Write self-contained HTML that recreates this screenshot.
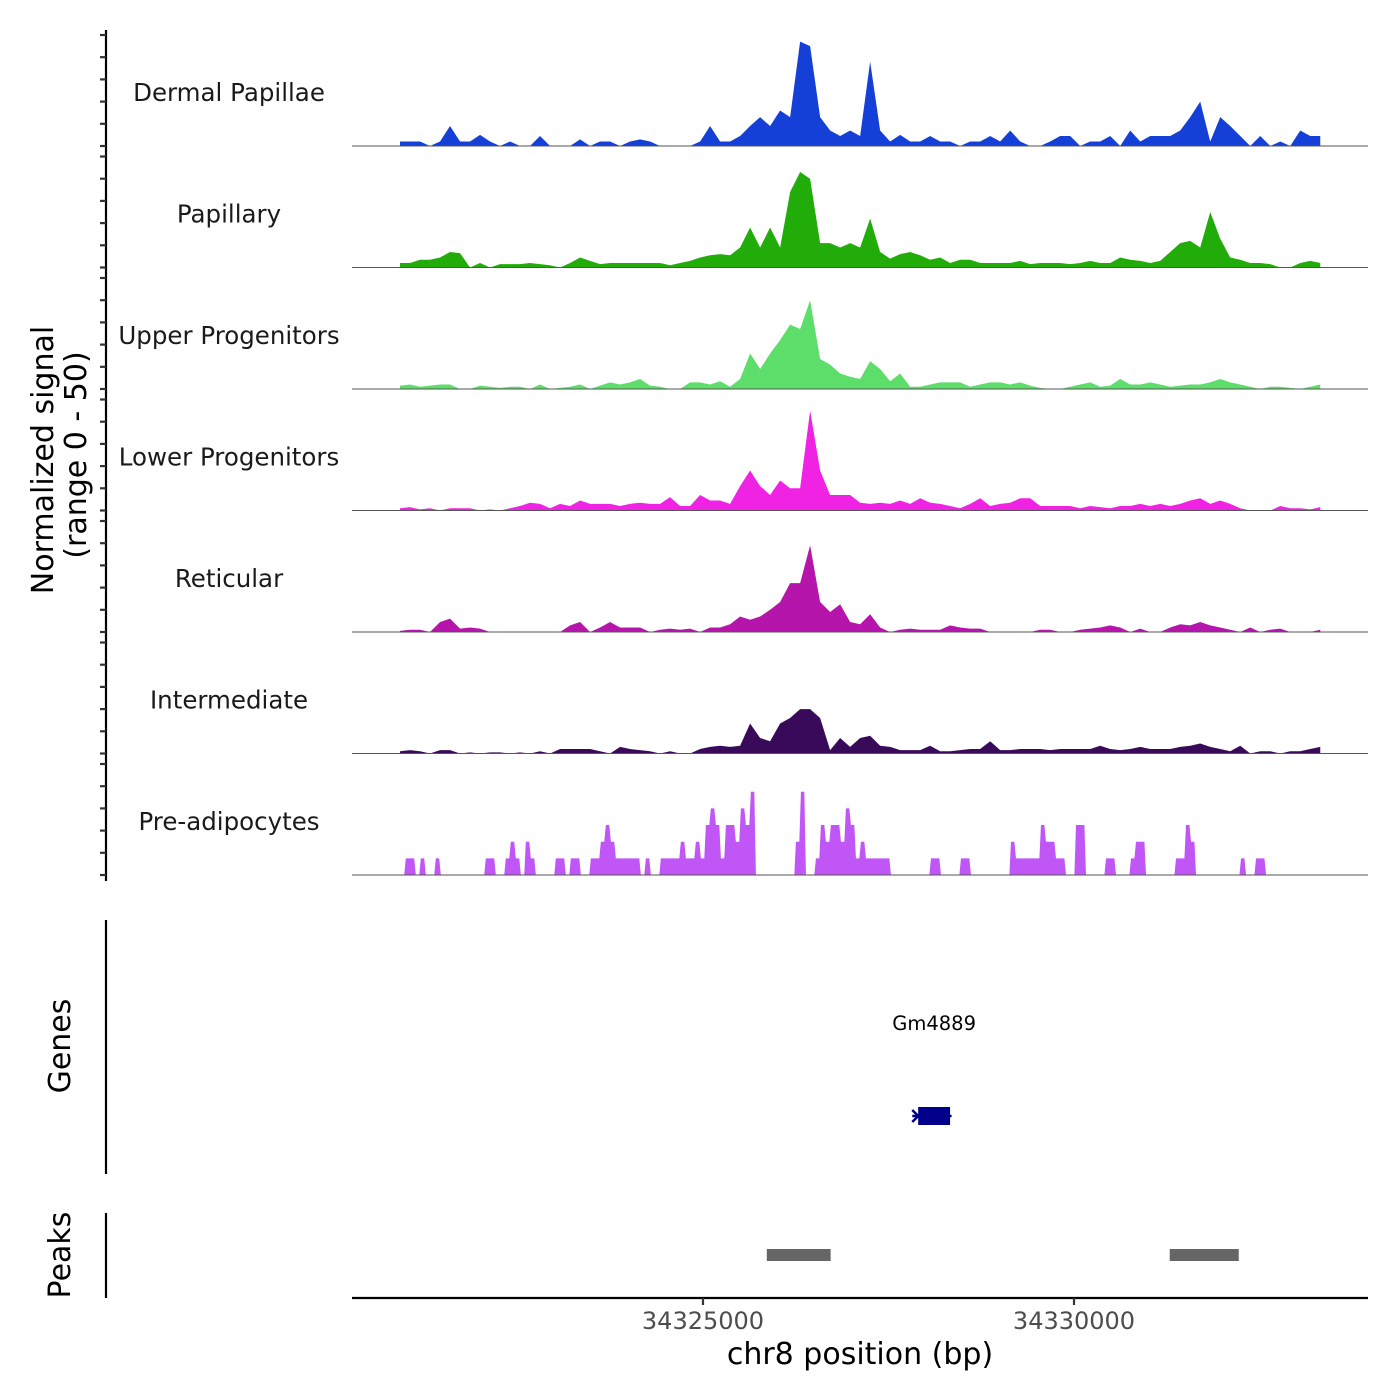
<!DOCTYPE html>
<html><head><meta charset="utf-8"><title>Coverage plot</title>
<style>
html,body{margin:0;padding:0;background:#fff;}
svg{display:block;font-family:"DejaVu Sans","Liberation Sans",sans-serif;}
</style></head>
<body>
<svg id="chart" width="1400" height="1400" viewBox="0 0 1400 1400" xmlns="http://www.w3.org/2000/svg">
<rect x="0" y="0" width="1400" height="1400" fill="#ffffff"/>
<g id="tracks"></g>
<line x1="106" y1="30" x2="106" y2="881" stroke="#000" stroke-width="2.2"/>
<g id="yticks"></g>
<text transform="translate(53,460) rotate(-90)" text-anchor="middle" font-size="30" fill="#000">Normalized signal</text>
<text transform="translate(86,455) rotate(-90)" text-anchor="middle" font-size="30" fill="#000">(range 0 - 50)</text>

<line x1="106" y1="920" x2="106" y2="1174" stroke="#000" stroke-width="2.2"/>
<text transform="translate(70,1046) rotate(-90)" text-anchor="middle" font-size="30" fill="#000">Genes</text>
<g id="genes"></g>

<line x1="106" y1="1213" x2="106" y2="1298" stroke="#000" stroke-width="2.2"/>
<text transform="translate(70,1255) rotate(-90)" text-anchor="middle" font-size="30" fill="#000">Peaks</text>
<g id="peaks"></g>

<line x1="352" y1="1298" x2="1368" y2="1298" stroke="#000" stroke-width="2.2"/>
<g id="xticks"></g>
<text x="860" y="1364" text-anchor="middle" font-size="30" fill="#000">chr8 position (bp)</text>
</svg>
<script>
// ---- data ----
const regionStart = 34320270;
const regionEnd = 34333962;
const binStart = 34320917;
const binStep = 134.8;
const trackNames = ["Dermal Papillae","Papillary","Upper Progenitors","Lower Progenitors","Reticular","Intermediate","Pre-adipocytes"];
const trackColors = ["#1540d8","#22ac0a","#5ddd69","#f022e4","#b515aa","#3a0a5a","#c056f5"];
const dermalPapillae = [2,2,2,0,2,9,2,2,5,2,0,2,0,0,4.5,0,0,0,3,0,2,2,0,2,3,2,0,0,0,0,2,9,2,2,4.5,9,13,9,16,13,47,45,13,7,4.5,7,4.5,38,7,2,5,2,2,4.5,2,2,0,2,2,4.5,2,7,2,0,0,2,4.5,4.5,0,2,2,4.5,0,7,2,4.5,4.5,4.5,7,13,20,2,13,9,4.5,0,4.5,0,2,0,7,4.5,4.5];
const papillary = [2,2,3.5,3.5,4.5,7,6.5,0,2,0,1.5,1.5,1.5,2,1.5,1,0,2,4.5,3,1.5,2,2,2,2,2,2,1,2,3,4.5,5.5,6,5.5,9,18,9,18,9,34,43,40,11,11,9,11,9,22,7,4,6,7,5.5,3.5,4.5,2,3.5,3.5,2,2,2,2,3,1.5,2,2,2,1.5,2,3,2,2,4.5,3.5,3,2,3,7,11,12,9,25,13,4.5,3.5,2,2,1.5,0,0,2,3,2];
const upperProgenitors = [1.5,2,1,1.5,2,2,0,0,1.5,1,0.5,1,1,0,2,0,0.5,1,2,0,1.5,3,2,3,4.5,1.5,1,0,0,3,3,2,3.5,1,4.5,16,9,16,22,29,27,40,13.5,11,7,5.5,4.5,12.5,9,3.5,7,1,1,2,3,3,3,1,2,3,3,2,3,1.5,0.5,0,0,1,2,3,1,1.5,4.5,2,2,3,2,1,1.5,2,2,3,4.5,3,2,1,0,1,1,0.5,0,1,2];
const lowerProgenitors = [1,1.5,0.5,1,0,1,1,1,0,0.5,0,1,2,3.5,3,1,3,2,4.5,3,3,3,2,3,3.5,3,3,6,2,2,7,4.5,4.5,3,11,18,11,7,13.5,10,10,45,18,7,7,7,3.5,3,3.5,3,4.5,3,5.5,3.5,3,2,1,3,5.5,2,3,3.5,5.5,5.5,2,2,2,2,1,2,1.5,1,2,2,3,2,3,2,3,4.5,5.5,3,4.5,3,1,0,0,0,2,1,1,0.5,1.5];
const reticular = [0.5,1,1,0,4.5,6,1.5,2,1.5,0,0,0,0,0,0,0,0,3,4.5,0,2,4.5,2,2,2,0,1,1.5,1,1.5,0,2,2,3.5,7,5.5,7,10,13.5,22,22,39,13.5,9,12.5,4.5,3.5,8,2,0,1,1.5,1,1,1,3,2,1.5,1.5,0,0,0,0,0,1,1,0,0,1,1.5,2,3,2,0,1.5,0,0,2,3.5,3,4.5,3,2,1,0,2,0,1,1.5,0,0,0,1];
const intermediate = [1,1.5,1,0,1.5,1.5,0,0.5,0,0.5,0.5,0,0.5,0,1,0,2,2,2,2,1,0,3,2,1.5,1,0,1,0,0,2,3,3.5,3,3.5,13.5,7,5.5,13.5,16,20,20,16,1.5,7,3,7,8,3.5,3,1.5,1.5,1.5,3.5,1,1,1.5,2,2,5.5,1.5,1.5,2,2,2,1.5,2,2,2,2,3.5,2,1.5,2,3,2,2,2,3,3.5,4.5,3,2,1,3.5,0,1,1,0,1,1,2,3];
const preStep = 67.4;
const preAdipocytes = [0,7.5,7.5,0,7.5,0,0,7.5,0,0,0,0,0,0,0,0,0,7.5,7.5,0,0,7.5,15,7.5,0,15,7.5,0,0,0,0,7.5,7.5,0,7.5,7.5,0,0,7.5,7.5,15,22.5,15,7.5,7.5,7.5,7.5,7.5,0,7.5,0,0,7.5,7.5,7.5,7.5,15,7.5,7.5,15,7.5,22.5,30,22.5,7.5,22.5,22.5,15,30,22.5,37.5,0,0,0,0,0,0,0,0,15,37.5,0,0,7.5,22.5,15,22.5,22.5,15,30,22.5,7.5,15,7.5,7.5,7.5,7.5,7.5,0,0,0,0,0,0,0,0,7.5,7.5,0,0,0,0,7.5,7.5,0,0,0,0,0,0,0,0,15,7.5,7.5,7.5,7.5,7.5,22.5,15,15,7.5,7.5,0,0,22.5,22.5,0,0,0,0,7.5,7.5,0,0,0,7.5,15,15,0,0,0,0,0,0,7.5,7.5,22.5,15,0,0,0,0,0,0,0,0,0,7.5,0,0,7.5,7.5,0,0,0,0,0,0,0,0,0,0,0,0];
const trackSeries = [dermalPapillae,papillary,upperProgenitors,lowerProgenitors,reticular,intermediate];
const yTicks = [0,10,20,30,40,50];
const xTickValues = [34325000,34330000];
const xTickLabels = ["34325000","34330000"];
const geneName = "Gm4889";
const geneStart = 34327900;
const geneEnd = 34328330;
const geneLineStart = 34327820;
const geneLineEnd = 34328350;
const peakStarts = [34325860,34331290];
const peakEnds = [34326720,34332220];

// ---- scales ----
const NS = "http://www.w3.org/2000/svg";
const plotX0 = 352, plotX1 = 1368;
function xs(bp){ return plotX0 + (bp - regionStart) / (regionEnd - regionStart) * (plotX1 - plotX0); }
const trackBase0 = 146, trackGap = 121.5, yMaxVal = 50, yMaxPx = 111;
function ys(v, t){ return trackBase0 + t*trackGap - v / yMaxVal * yMaxPx; }
function mk(tag, attrs){ const e = document.createElementNS(NS, tag); for (const k in attrs) e.setAttribute(k, attrs[k]); return e; }

const gTracks = document.getElementById('tracks');
const gY = document.getElementById('yticks');
for (let t = 0; t < 7; t++) {
  const base = ys(0, t);
  const g = mk('g', {});
  
  
  gTracks.appendChild(g);
  let d;
  if (t < 6) {
    const s = trackSeries[t];
    d = 'M' + xs(binStart).toFixed(2) + ',' + base;
    for (let i = 0; i < s.length; i++) d += ' L' + xs(binStart + i*binStep).toFixed(2) + ',' + ys(s[i], t).toFixed(2);
    d += ' L' + xs(binStart + (s.length-1)*binStep).toFixed(2) + ',' + base + ' Z';
  } else {
    const s = preAdipocytes;
    d = 'M' + xs(binStart).toFixed(2) + ',' + base;
    for (let i = 0; i < s.length; i++) {
      const xa = xs(binStart + i*preStep), xb = xs(binStart + (i+1)*preStep);
      d += ' L' + (xa+0.8).toFixed(2) + ',' + ys(s[i], t).toFixed(2) + ' L' + (xb-0.8).toFixed(2) + ',' + ys(s[i], t).toFixed(2);
    }
    d += ' L' + xs(binStart + s.length*preStep).toFixed(2) + ',' + base + ' Z';
  }
  const area = mk('path', {d: d, fill: trackColors[t], stroke: 'none'});
  
  
  g.appendChild(area);
  const bl = mk('line', {x1: plotX0, x2: plotX1, y1: base, y2: base, stroke: '#555', 'stroke-width': 1});
  
  
  g.appendChild(bl);
  const lab = mk('text', {x: 229, y: base - 54 + 9, 'text-anchor': 'middle', 'font-size': 24.5, fill: '#1a1a1a'});
  lab.textContent = trackNames[t];
  
  
  g.appendChild(lab);
  for (const v of yTicks) {
    const y = ys(v, t);
    const tk = mk('line', {x1: 100, x2: 106, y1: y, y2: y, stroke: '#333', 'stroke-width': 2.2});
    
    
    gY.appendChild(tk);
  }
}

// genes
const gG = document.getElementById('genes');
const gl = mk('text', {x: (xs(geneStart)+xs(geneEnd))/2, y: 1030, 'text-anchor': 'middle', 'font-size': 19.5, fill: '#000'});
gl.textContent = geneName;


gG.appendChild(gl);
const gline = mk('line', {x1: xs(geneLineStart), x2: xs(geneLineEnd), y1: 1116, y2: 1116, stroke: '#00008b', 'stroke-width': 2.5});


gG.appendChild(gline);
const garrow = mk('path', {d: 'M' + xs(geneLineStart) + ',1110 L' + (xs(geneLineStart)+6) + ',1116 L' + xs(geneLineStart) + ',1122', fill: 'none', stroke: '#00008b', 'stroke-width': 2.5});


gG.appendChild(garrow);
const gbox = mk('rect', {x: xs(geneStart), y: 1107, width: xs(geneEnd)-xs(geneStart), height: 18, fill: '#00008b'});


gG.appendChild(gbox);

// peaks
const gP = document.getElementById('peaks');
for (let i = 0; i < peakStarts.length; i++) {
  const r = mk('rect', {x: xs(peakStarts[i]), y: 1249, width: xs(peakEnds[i]) - xs(peakStarts[i]), height: 12, fill: '#666666'});
  
  
  gP.appendChild(r);
}

// x ticks
const gX = document.getElementById('xticks');
for (let i = 0; i < xTickValues.length; i++) {
  const x = xs(xTickValues[i]);
  const tk = mk('line', {x1: x, x2: x, y1: 1298, y2: 1305, stroke: '#333', 'stroke-width': 2.2});
  
  
  gX.appendChild(tk);
  const tl = mk('text', {x: x, y: 1329, 'text-anchor': 'middle', 'font-size': 24, fill: '#4d4d4d'});
  tl.textContent = xTickLabels[i];
  
  
  gX.appendChild(tl);
}
</script>
</body></html>
